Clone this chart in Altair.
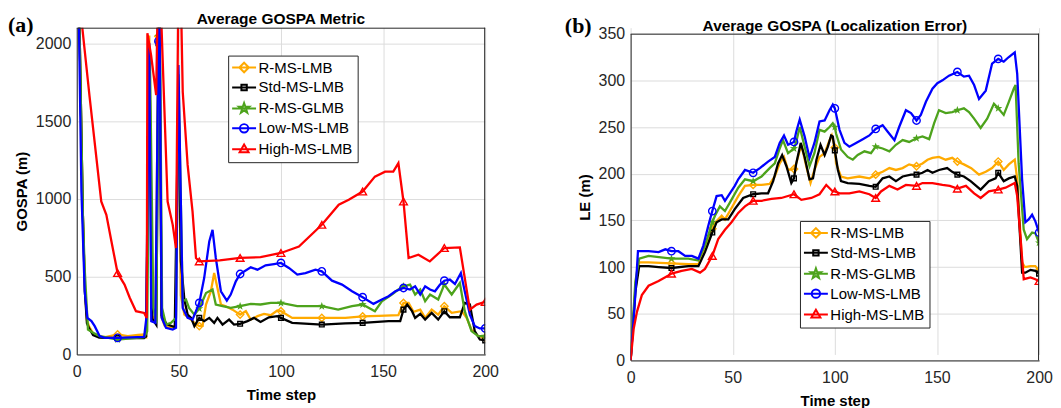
import altair as alt
import pandas as pd

SERIES = ["R-MS-LMB", "Std-MS-LMB", "R-MS-GLMB", "Low-MS-LMB", "High-MS-LMB"]
COLORS = ["#FFAA00", "#000000", "#4DA31C", "#0000FF", "#FF0000"]
X_TICKS = [0, 50, 100, 150, 200]
A_Y_TICKS = [0, 500, 1000, 1500, 2000]
B_Y_TICKS = [0, 50, 100, 150, 200, 250, 300, 350]
LETTERS = ["(a)", "(b)"]
TITLES = ["Average GOSPA Metric", "Average GOSPA (Localization Error)"]
Y_TITLES = ["GOSPA (m)", "LE (m)"]

# ---------------- Panel (a): Average GOSPA ----------------
A_ORANGE_STEP = [0, 1.5, 3, 4, 5, 6, 8, 11, 14, 20, 25, 30, 33, 34, 35.5, 37, 38.5, 40, 40.5, 41.5, 43, 46, 48.5, 49.8, 51, 52.7, 55, 57.6, 60, 61.6, 63.3, 65.7, 67.3, 68.9, 70.6, 73, 76.3, 80, 82.8, 85.2, 88.5, 91.7, 95, 98.2, 100, 105.5, 120, 131.5, 140, 147.8, 157.5, 160, 162.5, 164.9, 168.2, 170.6, 173.8, 177, 180, 183.6, 188.5, 190.9, 193.3, 196.6, 200]
A_ORANGE_VAL = [3000, 2000, 900, 420, 220, 180, 135, 115, 112, 128, 118, 125, 128, 115, 2050, 250, 200, 2045, 2300, 240, 185, 175, 182, 1750, 380, 256, 235, 203, 182, 185, 321, 406, 523, 427, 321, 310, 288, 256, 278, 224, 246, 261, 252, 282, 278, 235, 235, 235, 244, 248, 252, 331, 331, 274, 288, 235, 288, 256, 310, 267, 278, 235, 160, 118, 107]

A_BLACK_STEP = [0, 1.5, 3, 4, 5, 6, 8, 11, 20, 33, 34, 35.6, 37, 39, 40, 40.5, 41.5, 44, 48, 49.8, 51, 52.7, 54.3, 56, 57.6, 60, 62.4, 64.9, 67.3, 68.9, 71.4, 74.6, 77, 80, 83.6, 86.8, 90, 94.1, 98.2, 100, 105.5, 120, 131.5, 140, 152.7, 158.4, 160, 161.8, 164.2, 165.7, 168.2, 170.6, 173.8, 177, 180, 182.7, 187.6, 190, 192.5, 194.9, 197.4, 200]
A_BLACK_VAL = [3000, 2000, 900, 400, 200, 170, 125, 108, 105, 105, 115, 1900, 230, 190, 2000, 2300, 250, 195, 175, 1700, 600, 353, 256, 235, 182, 235, 214, 235, 203, 235, 192, 224, 192, 197, 214, 235, 209, 239, 246, 235, 203, 192, 199, 203, 214, 214, 288, 321, 278, 235, 261, 224, 267, 224, 278, 239, 239, 331, 321, 150, 96, 90]

A_GREEN_STEP = [0, 1.5, 3, 3.9, 5.5, 8, 11.2, 20, 33, 34.5, 35.8, 37.5, 39, 40, 40.6, 41.8, 43.7, 46.2, 48.6, 49.8, 51.9, 53.5, 55, 57.6, 60, 63.3, 66.5, 68.1, 71.4, 75.4, 80, 85.2, 90, 95, 100, 108, 120, 128, 134.8, 140, 146, 149.4, 154.3, 157.5, 160, 163.2, 165.7, 168.2, 170.6, 173, 177, 180, 183.6, 187.6, 190, 193.3, 196.6, 200]
A_GREEN_VAL = [3000, 2000, 900, 550, 160, 139, 118, 96, 111, 150, 1950, 300, 200, 2045, 2300, 299, 192, 203, 235, 1800, 342, 353, 299, 256, 295, 395, 417, 321, 310, 299, 310, 325, 321, 331, 331, 310, 310, 288, 310, 321, 278, 342, 385, 417, 438, 449, 385, 417, 342, 385, 353, 449, 385, 459, 278, 150, 118, 118]

A_BLUE_STEP = [0, 1, 2.3, 3.9, 5.2, 7.2, 8.8, 11.2, 13.7, 20, 33, 34, 35.5, 36.5, 38.5, 40, 40.5, 41.6, 43.7, 47, 48.6, 49.8, 51.9, 54.3, 56.7, 60, 62.4, 64.9, 66.5, 68.1, 70.6, 73.5, 75.4, 77.9, 80, 85.2, 88.5, 92.5, 96.6, 100, 103.9, 108, 112, 116.9, 120, 125, 129.9, 134.8, 140, 145.3, 149.4, 152.7, 156, 160, 163.2, 165.7, 168.2, 170.6, 173, 175.4, 177.9, 180, 182.7, 185.2, 188.1, 190, 192.5, 194.9, 197.4, 200]
A_BLUE_VAL = [3000, 2200, 1047, 406, 235, 214, 182, 118, 107, 107, 113, 224, 2000, 214, 203, 2013, 2300, 235, 171, 160, 171, 1860, 299, 235, 224, 331, 491, 726, 801, 620, 406, 346, 385, 470, 517, 560, 545, 573, 581, 588, 556, 513, 523, 545, 534, 474, 449, 406, 368, 325, 353, 374, 406, 427, 417, 438, 385, 438, 417, 406, 449, 474, 481, 453, 523, 406, 256, 182, 167, 167]

A_RED_STEP = [0, 2.6, 6.3, 12, 14.5, 17, 20, 23.4, 26, 29, 33, 34.3, 34.6, 36.4, 38.9, 39.8, 40, 41, 44.5, 47, 48.6, 49.8, 51, 51.9, 54.3, 56.7, 58.4, 60, 70, 80, 90, 100, 108.8, 120, 128.3, 133.2, 140, 146, 151, 155, 157.5, 160, 162.5, 167.3, 172.9, 180, 187.6, 192.5, 195.8, 200]
A_RED_VAL = [3000, 2115, 1656, 983, 897, 726, 523, 449, 363, 278, 267, 235, 2064, 1923, 1667, 2400, 2450, 2300, 983, 833, 684, 2400, 2300, 1688, 1218, 919, 620, 598, 605, 620, 625, 652, 694, 833, 962, 994, 1047, 1143, 1175, 1175, 1229, 983, 620, 641, 598, 684, 688, 288, 320, 338]

# ---------------- Panel (b): Localization error ----------------
B_ORANGE_STEP = [0, 2.3, 4.2, 8.8, 20, 28.3, 33.2, 36.4, 38.9, 40, 41.6, 44.6, 46.2, 48.6, 52.7, 56, 60, 64.1, 68.1, 70.6, 73, 75.1, 77.1, 80, 81.1, 83.6, 86, 88.1, 90, 92.5, 95, 97.4, 98.5, 100, 100.6, 103, 106.3, 112, 116.9, 120, 123.4, 126.7, 129.9, 133.2, 136.4, 140, 142.9, 145.4, 147.8, 151, 154.3, 157.5, 160, 163.2, 166.8, 170.6, 173.9, 177, 180, 182.7, 185.2, 188.1, 189.3, 191.7, 193, 195.8, 198.2, 200]
B_ORANGE_VAL = [0, 77, 105, 105, 104, 103, 103, 119, 135, 141, 148, 155, 151, 160, 176, 187, 188, 188, 189, 197, 211, 218, 204, 205, 211, 231, 208, 190, 204, 218, 222, 236, 241, 228, 211, 197, 195, 197, 195, 199, 202, 206, 204, 206, 210, 208, 211, 215, 217, 218, 215, 217, 213, 210, 206, 199, 202, 206, 213, 204, 210, 215, 194, 105, 100, 101, 101, 96]

B_BLACK_STEP = [0, 2.3, 4.2, 8.8, 13.7, 20, 28.3, 33.2, 36.4, 40, 42.1, 44.6, 47.8, 51, 55.1, 60, 64.1, 67.3, 69.8, 72.2, 74.2, 76.3, 78.7, 80, 81.1, 83.3, 85.2, 87.6, 89.3, 91, 93, 95, 96.6, 98.2, 99, 100, 101.5, 103, 106.3, 112, 116.9, 120, 123.4, 126.7, 129.9, 133.2, 137.3, 140, 142.9, 145.4, 147.8, 151, 155, 157.5, 160, 163.2, 166.5, 171.4, 175.4, 178.7, 180, 182.7, 185.2, 188.1, 189.3, 191.7, 193.3, 195.8, 198.2, 200]
B_BLACK_VAL = [0, 73, 101, 101, 100, 99, 101, 101, 116, 137, 148, 151, 151, 162, 174, 178, 179, 179, 192, 211, 220, 208, 190, 195, 211, 233, 218, 194, 195, 215, 231, 220, 229, 241, 240, 225, 204, 192, 190, 189, 187, 186, 195, 197, 192, 197, 199, 199, 201, 204, 201, 204, 206, 202, 199, 197, 192, 183, 192, 195, 201, 192, 195, 197, 187, 94, 94, 97, 96, 93]

B_GREEN_STEP = [0, 2.3, 4.2, 8.8, 20, 28.3, 33.2, 36.4, 38.9, 40, 41.3, 43.7, 46.2, 48.6, 52.7, 56, 60, 64.1, 68.1, 70.6, 73, 74.6, 77.1, 80, 81.1, 82.8, 85.2, 87.6, 90, 92.5, 95, 97.4, 99, 100, 100.6, 103, 106.3, 108.8, 111.2, 114.5, 117.7, 120, 123.4, 126.7, 129.9, 133.2, 136.4, 140, 142.9, 146.2, 148.6, 151, 154.3, 157.5, 160, 163.2, 165.7, 168.2, 171.4, 174.6, 177.9, 180, 182.7, 185.2, 187.6, 188.5, 190, 192.5, 194.1, 196.6, 198.2, 200]
B_GREEN_VAL = [0, 84, 109, 112, 109, 109, 107, 123, 140, 148, 155, 165, 160, 169, 185, 194, 192, 197, 206, 211, 227, 236, 222, 227, 234, 250, 229, 208, 222, 247, 245, 250, 254, 250, 243, 226, 218, 215, 220, 224, 222, 229, 227, 224, 231, 236, 234, 238, 240, 237, 254, 268, 265, 266, 268, 270, 266, 259, 249, 259, 275, 270, 263, 277, 291, 295, 211, 140, 130, 137, 136, 126]

B_BLUE_STEP = [0, 2.3, 3.6, 8.8, 13.7, 17, 20, 23.4, 26.7, 30, 33.2, 35.6, 38, 40, 42.1, 44.6, 46.2, 48.6, 51, 52.7, 56, 60, 63.3, 67.3, 70.6, 73, 75.1, 77.1, 80, 81.1, 82.8, 85.2, 87.6, 90, 92.5, 95, 97.4, 99, 100, 102.3, 104.7, 107.1, 110.4, 113.7, 116.9, 120, 123.4, 125.9, 129.2, 131.5, 134.8, 137.3, 140, 142.1, 144.6, 147.8, 150.2, 152.7, 155.9, 160, 163.2, 165.7, 168.2, 170.6, 173.9, 177, 180, 182.7, 185.2, 188.1, 189.3, 191.7, 193.3, 194.9, 196.6, 198.2, 200]
B_BLUE_VAL = [0, 70, 117, 117, 116, 119, 117, 117, 112, 112, 109, 123, 144, 160, 176, 177, 171, 179, 187, 194, 204, 201, 206, 213, 218, 233, 241, 231, 234, 245, 258, 240, 217, 233, 256, 257, 268, 274, 270, 247, 233, 229, 233, 237, 241, 248, 252, 245, 236, 250, 268, 265, 257, 263, 277, 291, 297, 300, 305, 309, 304, 305, 295, 280, 289, 318, 323, 320, 325, 330, 307, 194, 148, 151, 156, 149, 137]

B_RED_STEP = [0, 1.5, 3.1, 5.5, 8.8, 13.7, 18.5, 20, 25, 30, 34, 36.4, 40, 42.9, 46.2, 49.4, 52.7, 56, 60, 64.1, 69, 73.8, 80, 83.6, 88.5, 92.5, 95.8, 99, 100, 102.3, 107.1, 112, 116.9, 120, 122.6, 126.7, 130.7, 134.8, 140, 142.9, 147.8, 152.7, 156.3, 160, 164.2, 168.2, 171.4, 175.4, 180, 183.6, 188.1, 189.3, 192.5, 195.8, 198.2, 200]
B_RED_VAL = [0, 34, 52, 70, 80, 85, 91, 93, 96, 98, 94, 98, 112, 130, 140, 148, 158, 165, 171, 171, 173, 174, 178, 172, 174, 178, 188, 181, 181, 179, 179, 181, 178, 174, 181, 187, 183, 188, 187, 190, 190, 188, 187, 184, 187, 179, 174, 181, 183, 185, 190, 176, 87, 89, 87, 85]

A_DATA = [(A_ORANGE_STEP, A_ORANGE_VAL), (A_BLACK_STEP, A_BLACK_VAL), (A_GREEN_STEP, A_GREEN_VAL),
          (A_BLUE_STEP, A_BLUE_VAL), (A_RED_STEP, A_RED_VAL)]
B_DATA = [(B_ORANGE_STEP, B_ORANGE_VAL), (B_BLACK_STEP, B_BLACK_VAL), (B_GREEN_STEP, B_GREEN_VAL),
          (B_BLUE_STEP, B_BLUE_VAL), (B_RED_STEP, B_RED_VAL)]

STAR = ("M0,-0.9L0.212,-0.291L0.856,-0.278L0.342,0.111L0.529,0.728L0,0.36"
        "L-0.529,0.728L-0.342,0.111L-0.856,-0.278L-0.212,-0.291Z")
MARKERS = ["diamond", "square", STAR, "circle", "triangle-up"]
MARKER_SIZES = [55, 22, 90, 55, 60]
MARKER_FILLED = [False, False, True, False, False]
LEGEND_PATHS = [
    "M-2,0H2M0,-0.8L0.8,0L0,0.8L-0.8,0Z",
    "M-2,0H2M-0.45,-0.45H0.45V0.45H-0.45Z",
    "M-2,0H2" + STAR,
    "M-2,0H2M-0.7,0A0.7,0.7 0 1,0 0.7,0A0.7,0.7 0 1,0 -0.7,0",
    "M-2,0H2M0,-0.8L0.75,0.5L-0.75,0.5Z",
]

FONT = "Liberation Sans"
FRAME = "#262626"
W, H = 410, 328


def panel(idx, data, ydom, yticks, legend_x, legend_y, title_y, letter_x, letter_y, top):
    """top: vertical offset (px) of the plot frame inside the view."""
    view_h = H + top
    xenc = alt.X("step:Q", scale=alt.Scale(domain=[0, 200], nice=False),
                 axis=alt.Axis(values=X_TICKS, title="Time step", format="d"))
    yenc = alt.Y("value:Q", scale=alt.Scale(domain=ydom, nice=False, range=[view_h, top]),
                 axis=alt.Axis(values=yticks, title=Y_TITLES[idx], format="d"))
    layers = []
    for i, name in enumerate(SERIES):
        steps, vals = data[i]
        df = pd.DataFrame({"step": steps, "value": vals, "series": name})
        base = alt.Chart(df)
        layers.append(base.mark_line(color=COLORS[i], strokeWidth=2.3, clip=True)
                      .encode(x=xenc, y=yenc))
        layers.append(base.transform_filter(
            f"datum.step % 20 == 0 && datum.step > 0 && datum.value <= {ydom[1]}")
                      .mark_point(shape=MARKERS[i], size=MARKER_SIZES[i], color=COLORS[i],
                                  filled=MARKER_FILLED[i], strokeWidth=1.4, opacity=1, clip=True)
                      .encode(x=xenc, y=yenc))
    leg = alt.Legend(orient="none", legendX=legend_x, legendY=legend_y + top, title=None,
                     labelFont=FONT, labelFontSize=15, labelColor="#000000",
                     symbolSize=144, symbolStrokeWidth=2, symbolOffset=4, labelOffset=7,
                     rowPadding=3, padding=4.5, strokeColor=FRAME, fillColor="#FFFFFF",
                     symbolOpacity=1)
    legend_layer = (alt.Chart(pd.DataFrame({"series": SERIES}))
                    .transform_filter("false")
                    .mark_point(filled=False, opacity=1, size=144, strokeWidth=2)
                    .encode(color=alt.Color("series:N", scale=alt.Scale(domain=SERIES, range=COLORS), legend=leg),
                            shape=alt.Shape("series:N", scale=alt.Scale(domain=SERIES, range=LEGEND_PATHS), legend=leg)))
    layers.append(legend_layer)
    letter = (alt.Chart(pd.DataFrame({"t": [LETTERS[idx]]}))
              .mark_text(font="Liberation Serif", fontWeight="bold", fontSize=22, align="left",
                         baseline="alphabetic", color="#000000")
              .encode(text="t:N", x=alt.value(letter_x), y=alt.value(letter_y + top)))
    layers.append(letter)
    title = (alt.Chart(pd.DataFrame({"t": [TITLES[idx]]}))
             .mark_text(font=FONT, fontWeight="bold", fontSize=15.5, align="center",
                        baseline="alphabetic", color="#000000")
             .encode(text="t:N", x=alt.value(W / 2), y=alt.value(title_y + top)))
    layers.append(title)
    # frame: top and right edges (left/bottom come from the axis domain lines)
    frame = pd.DataFrame({"t": [0]})
    layers.append(alt.Chart(frame).mark_rule(color=FRAME, strokeWidth=1)
                  .encode(x=alt.value(0), x2=alt.value(W), y=alt.value(top + 0.5)))
    layers.append(alt.Chart(frame).mark_rule(color=FRAME, strokeWidth=1)
                  .encode(x=alt.value(W - 0.5), y=alt.value(top), y2=alt.value(view_h)))
    # invisible spacer that fixes the extent above the view
    layers.append(alt.Chart(frame).mark_rule(opacity=0)
                  .encode(x=alt.value(0), x2=alt.value(2), y=alt.value(-20)))
    return alt.layer(*layers).properties(width=W, height=view_h,
                                         view=alt.ViewBackground(strokeOpacity=0))


pa = panel(0, A_DATA, [0, 2100], A_Y_TICKS, 152, 28, -4, -69, 4.5, 0)
pb = panel(1, B_DATA, [0, 350], B_Y_TICKS, 170, 188, -3, -66, -1, 6)

chart = (alt.hconcat(pa, pb, spacing=66)
         .resolve_scale(color="independent", shape="independent")
         .properties(padding={"left": 0, "top": -1, "right": 0, "bottom": 0})
         .configure_view(strokeOpacity=0)
         .configure_axis(labelFont=FONT, labelFontSize=16, labelColor="#262626", labelFlush=False,
                         titleFont=FONT, titleFontSize=15, titleFontWeight="bold", titleColor="#000000",
                         grid=True, gridColor="#DCDCDC", gridWidth=1, domain=True, domainColor=FRAME,
                         domainWidth=1, ticks=False, labelPadding=6, titlePadding=6)
         .configure_axisX(labelPadding=9, titlePadding=8))

chart.save("out.html", embed_options={"renderer": "svg", "actions": False})
